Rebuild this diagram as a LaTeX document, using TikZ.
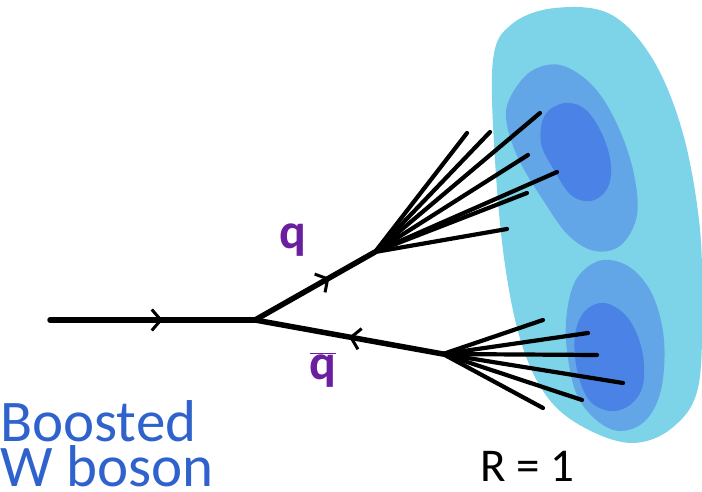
\documentclass[tikz,border=0pt]{standalone}
\usepackage{fontspec}
\setmainfont{Carlito}
\usetikzlibrary{arrows.meta,decorations.markings}

\definecolor{jetout}{HTML}{7DD3E8}
\definecolor{jetmid}{HTML}{62A6E8}
\definecolor{jetin}{HTML}{4A82E6}
\definecolor{quarkcol}{HTML}{6A1FA0}
\definecolor{bosoncol}{HTML}{2F62CC}

\tikzset{
  prop/.style={line width=5.5pt, line cap=round},
  spray/.style={line width=4.2pt, line cap=round},
  fwd/.style={postaction={decorate}, decoration={markings,
    mark=at position #1 with {\arrow[line width=3pt]{Straight Barb[length=9pt,width=21pt]}}}},
  bwd/.style={postaction={decorate}, decoration={markings,
    mark=at position #1 with {\arrowreversed[line width=3pt]{Straight Barb[length=9pt,width=21pt]}}}},
  qlabel/.style={text=quarkcol, font=\fontsize{50}{50}\selectfont\bfseries},
  bosontext/.style={text=bosoncol, font=\fontsize{59}{59}\selectfont, anchor=base west, inner sep=0pt}
}

\begin{document}
\begin{tikzpicture}[x=1pt,y=-1pt]
\useasboundingbox (0,0) rectangle (702,492);

% the R = 1 jet area
\fill[jetout] plot[smooth cycle, tension=0.6] coordinates {(493,60) (512,24) (555,8) (610,14) (652,58) (682,130) (699,220) (702,300) (698,388) (672,428) (632,443) (585,428) (548,398) (522,345) (505,265) (495,160)};
\fill[jetmid] plot[smooth cycle, tension=0.6] coordinates {(509,100) (530,72) (560,65) (592,85) (616,122) (633,170) (637,215) (621,245) (595,251) (568,235) (543,200) (519,160) (507,125)};
\fill[jetin] plot[smooth cycle, tension=0.6] coordinates {(545,115) (565,103) (586,110) (603,136) (611,166) (607,189) (591,201) (571,195) (554,170) (541,143)};
\fill[jetmid] plot[smooth cycle, tension=0.6] coordinates {(580,274) (603,260) (631,268) (653,296) (664,340) (661,390) (645,421) (619,431) (594,418) (575,390) (566,340) (569,300)};
\fill[jetin] plot[smooth cycle, tension=0.6] coordinates {(585,311) (605,303) (628,318) (642,350) (643,385) (630,405) (610,411) (589,400) (577,370) (575,335)};

% vertices
\coordinate (win) at (50,320);
\coordinate (wv) at (255,320);
\coordinate (qv) at (375,252);
\coordinate (qbv) at (443,354);

% propagators
\draw[prop, fwd=0.55] (win) -- (wv);
\draw[prop, fwd=0.62] (wv) -- (qv);
\draw[prop, bwd=0.5] (wv) -- (qbv);

% quark spray
\foreach \x/\y [count=\i] in {467/133, 490/132, 540/113, 528/155, 557/172, 527/193, 507/229}{
  \coordinate (qt\i) at (\x,\y);
  \draw[spray] (qv) -- (qt\i);
}
% antiquark spray
\foreach \x/\y [count=\i] in {543/320, 588/333, 597/355, 623/383, 582/400, 543/408}{
  \coordinate (qbt\i) at (\x,\y);
  \draw[spray] (qbv) -- (qbt\i);
}

\node[qlabel] (q) at (293,240) {q};
\node[qlabel] (qb) at (323,370) {$\overline{\mbox{q}}$};

\node[bosontext] (boosted) at (0,441) {Boosted};
\node[bosontext] (wboson) at (0,486) {W boson};
\node[font=\fontsize{47}{47}\selectfont, anchor=base west, inner sep=0pt] (radius) at (480,481) {R = 1};
\end{tikzpicture}
\end{document}
